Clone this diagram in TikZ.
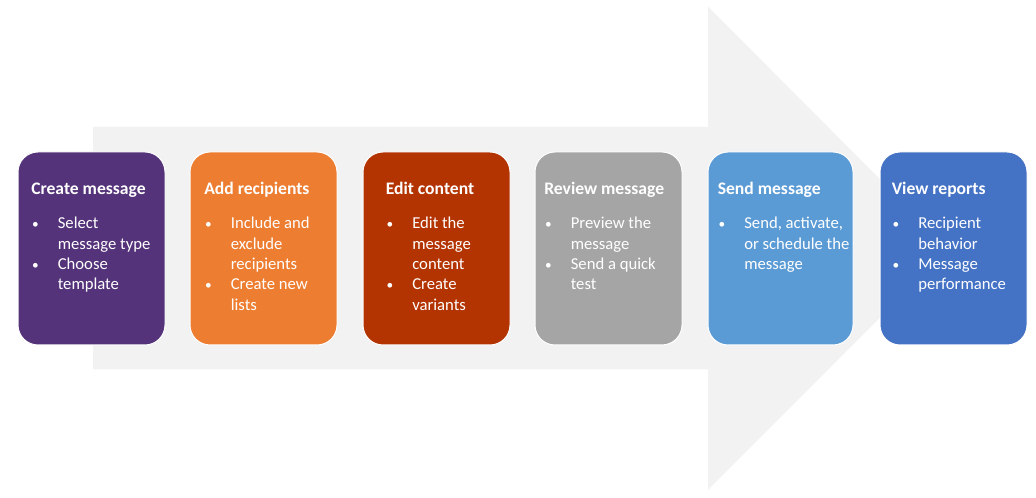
\documentclass[tikz,border=0pt]{standalone}
\usepackage{fontspec}
\setmainfont{Carlito}
\definecolor{bgarrow}{HTML}{F2F2F2}
\definecolor{cpurple}{HTML}{54337A}
\definecolor{corange}{HTML}{ED7D31}
\definecolor{cdred}{HTML}{B33400}
\definecolor{cgray}{HTML}{A5A5A5}
\definecolor{clblue}{HTML}{5B9BD5}
\definecolor{cblue}{HTML}{4472C4}
\newcommand\bl{\makebox[19.9pt][l]{\hspace*{0.6pt}\fontsize{10}{10}\selectfont\textbullet}}
\newcommand\ind{\hspace*{19.9pt}}
\newcommand\steptext[2]{\begin{tabular}[t]{@{}l@{}}{\fontsize{13.2}{15.2}\selectfont\bfseries #1}\\[10.3pt] #2\end{tabular}}
\tikzset{
  stepbox/.style={draw=white, line width=0.75pt, rounded corners=15pt},
  steplabel/.style={anchor=base west, inner sep=0pt, text=white,
    font=\fontsize{12.5}{15.2}\selectfont}
}
\begin{document}
\begin{tikzpicture}[x=0.75pt,y=-0.75pt]
\useasboundingbox (0,0) rectangle (1036,498);
% big background arrow
\fill[bgarrow] (93,127) -- (708,127) -- (708,6.5) -- (949,248.5) -- (708,490) -- (708,369.5) -- (93,369.5) -- cycle;
% boxes
\path[stepbox, fill=cpurple] (18,152) rectangle (165,345);
\path[stepbox, fill=corange] (190,152) rectangle (337,345);
\path[stepbox, fill=cdred]   (363,152) rectangle (510,345);
\path[stepbox, fill=cgray]   (535,152) rectangle (682,345);
\path[stepbox, fill=clblue]  (708,152) rectangle (853,345);
\path[stepbox, fill=cblue]   (880,152) rectangle (1027,345);
% texts
\node[steplabel] (t1) at (31,195) {\steptext{Create message}{\bl Select\\ \ind message type\\ \bl Choose\\ \ind template}};
\node[steplabel] (t2) at (204,195) {\steptext{Add recipients}{\bl Include and\\ \ind exclude\\ \ind recipients\\ \bl Create new\\ \ind lists}};
\node[steplabel] (t3) at (385.5,195) {\steptext{Edit content}{\bl Edit the\\ \ind message\\ \ind content\\ \bl Create\\ \ind variants}};
\node[steplabel] (t4) at (544,195) {\steptext{Review message}{\bl Preview the\\ \ind message\\ \bl Send a quick\\ \ind test}};
\node[steplabel] (t5) at (717.5,195) {\steptext{Send message}{\bl Send, activate,\\ \ind or schedule the\\ \ind message}};
\node[steplabel] (t6) at (891.5,195) {\steptext{View reports}{\bl Recipient\\ \ind behavior\\ \bl Message\\ \ind performance}};
\end{tikzpicture}
\end{document}
